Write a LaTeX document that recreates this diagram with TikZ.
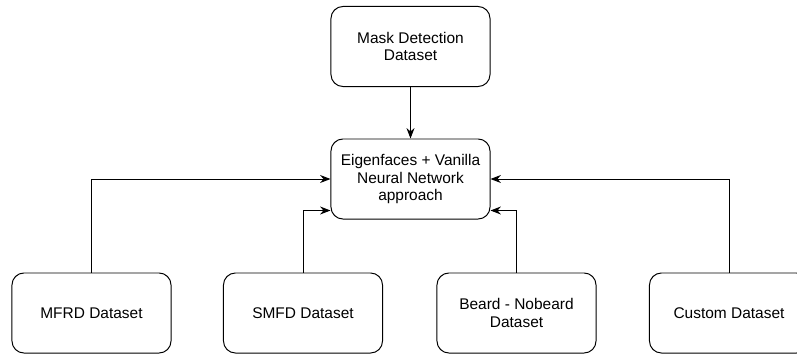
\documentclass[tikz,border=0pt]{standalone}
\usepackage{fontspec}
\setmainfont{Liberation Sans}
\usepackage{tikz}
\usetikzlibrary{arrows.meta, shapes}

\begin{document}
\begin{tikzpicture}[x=0.025cm, y=-0.025cm]
\useasboundingbox (0,0) rectangle (797,356);
\begin{scope}[every node/.style={rectangle,draw,line width=0.7pt,rounded corners=3mm,
              minimum width=3.975cm,minimum height=2cm,align=center,
              font=\fontsize{11}{12.6}\selectfont}]
  \node (mask) at (410.5,46.5) {Mask Detection\\Dataset};
  \node (eig) at (410.5,179) {Eigenfaces + Vanilla\\Neural Network\\approach};
  \node (mfrd) at (91.5,313) {MFRD Dataset};
  \node (smfd) at (303,313) {SMFD Dataset};
  \node (beard) at (516.5,313) {Beard - Nobeard\\Dataset};
  \node (custom) at (729,313) {Custom Dataset};
\end{scope}

\begin{scope}[>={Stealth[black,length=2.6mm,width=2mm]},
              every edge/.style={draw=black, line width=0.7pt}]
    \path [->] (mask) edge (eig);
    \draw [->, line width=0.7pt] (mfrd) |- (eig);
    \draw [->, line width=0.7pt] (custom) |- (eig);
    \draw [->, line width=0.7pt] (smfd) |- ([yshift=0.225cm]eig.south west);
    \draw [->, line width=0.7pt] (beard) |- ([yshift=0.225cm]eig.south east);
\end{scope}

\end{tikzpicture}
\end{document}
